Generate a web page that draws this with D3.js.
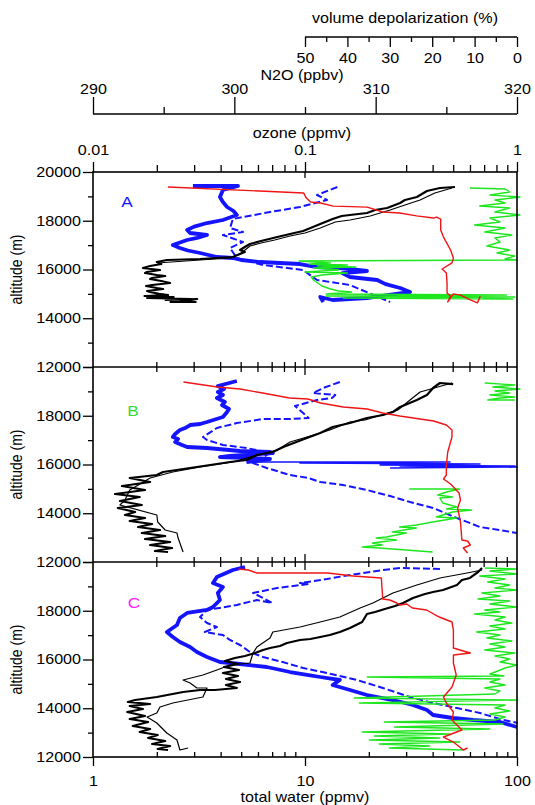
<!DOCTYPE html>
<html>
<head>
<meta charset="utf-8">
<script src="https://cdn.jsdelivr.net/npm/d3@7"></script>
<style>
  body { margin: 0; background: #fff; }
  text { font-family: "Liberation Sans", Arial, Helvetica, sans-serif; font-size: 14px; }
</style>
</head>
<body>
<svg id="chart" width="535" height="805"></svg>
<script>
// ---- data: [altitude (m), value] ----

// panel A
const waterA = [[19385,51],[19344,43.3],[19220,37.6],[18974,33.7],[18851,29.6],[18728,28.1],[18523,24.4],[18441,21.4],[18318,19.6],[18236,16.3],[18195,14.9],[18072,13.5],[17866,11.8],[17743,10.9],[17579,9.8],[17456,8.5],[17333,7.4],[17169,6.2],[17046,5.5],[16923,5.2],[16800,4.94],[16718,5.2],[16595,4.8],[16513,4.57],[16430,3.2],[16390,2.23],[16307,2.0],[16225,2.1],[16143,1.86],[16061,1.72],[15979,2.07],[15897,1.8],[15856,1.76],[15774,2.0],[15733,2.19],[15651,1.9],[15610,1.86],[15528,2.1],[15446,2.31],[15364,1.9],[15323,1.78],[15241,2.0],[15200,2.14],[15118,1.8],[15077,1.86],[15000,2.05],[14954,2.26],[14913,1.75],[14872,2.4],[14830,1.8],[14790,2.9],[14749,2.2],[14790,3.1],[14708,2.6],[14667,3.05],[14667,2.3]];
const waterThinA = [[19344,49.4],[19138,41],[18851,34.9],[18646,29.6],[18441,25.2],[18195,20.3],[18031,16.3],[17949,13.9],[17702,11.8],[17497,10],[17374,8.5],[17210,7.2],[17087,6.2],[16964,5.5],[16636,4.94],[16472,4.43],[16390,3.2],[16266,2.0]];
const ozoneA = [[19426,0.0296],[19426,0.0483],[19262,0.041],[18974,0.0397],[18770,0.041],[18564,0.0429],[18400,0.046],[18236,0.0477],[18031,0.041],[17907,0.0345],[17760,0.03],[17620,0.0278],[17497,0.0287],[17415,0.0345],[17300,0.031],[17210,0.0278],[17005,0.0238],[16882,0.0257],[16780,0.028],[16677,0.032],[16513,0.0384],[16472,0.0457],[16390,0.05],[16307,0.0613],[16225,0.0947],[16102,0.114],[16061,0.146],[15938,0.196],[15850,0.15],[15692,0.163],[15569,0.219],[15400,0.24],[15241,0.281],[15077,0.313],[14960,0.25],[14831,0.196],[14749,0.135],[14872,0.118],[14667,0.122]];
const ozoneDashA = [[19385,0.142],[19056,0.114],[18851,0.127],[18564,0.0947],[18359,0.0684],[18072,0.0457],[17702,0.0443],[17538,0.051],[17415,0.041],[17128,0.051],[16882,0.0443],[16472,0.0477],[16184,0.0634],[15979,0.098],[15569,0.114],[15364,0.163],[14667,0.252]];
const n2oA = [[19385,295.3],[19140,304.9],[18930,305.1],[18770,305.4],[18730,306.1],[18600,307.0],[18560,309.4],[18360,310.5],[18320,311.7],[18200,312.9],[18110,314.1],[18150,314.3],[18070,314.6],[17620,314.6],[17330,314.8],[16800,315.3],[16470,315.5],[16270,315.4],[16020,314.7],[15860,315.0],[15450,315.05],[15040,315.05],[14910,315.3],[14670,315.1],[15000,315.5],[14950,316.0],[14750,316.7],[14630,317.2],[14900,317.4]];
const depolA = [[19344,11.1],[19303,2.8],[19179,1.7],[19056,6.4],[18974,-0.7],[18851,5.2],[18728,2.8],[18605,8.8],[18523,1.7],[18359,5.2],[18236,-0.7],[18113,6.4],[17949,4.0],[17825,10],[17702,2.8],[17538,7.6],[17415,1.2],[17292,5.2],[17128,4.0],[16964,7.1],[16800,1.7],[16677,4.7],[16554,0.5],[16430,2.8],[16390,0],[16348,51.4],[16266,44],[16225,49],[16184,40],[16143,47],[16102,38],[16061,48],[15979,42],[15897,50],[15856,40],[15774,46],[15692,48.5],[15569,48],[15446,47],[15323,46],[15200,44],[15118,42],[15077,39],[14995,45],[14954,2.5],[14913,45],[14872,0.5],[14831,41],[14790,1],[14831,8]];

// panel B
const waterB = [[19300,50],[19344,43.3],[19138,40.2],[18851,37.6],[18646,33.7],[18359,28.1],[18154,26.0],[18031,23.3],[17908,19.6],[17702,16.3],[17538,13.5],[17292,11.8],[17087,10.2],[16718,7.9],[16513,7.05],[16389,5.93],[16184,5.3],[16102,4.43],[16020,3.84],[15856,2.87],[15692,2.14],[15569,2.0],[15446,1.49],[15282,1.86],[15118,1.37],[14953,1.76],[14789,1.27],[14666,1.66],[14502,1.34],[14338,1.70],[14215,1.31],[14051,1.58],[13928,1.415],[13805,1.76],[13682,1.49],[13559,1.90],[13436,1.63],[13312,2.07],[13189,1.70],[13066,2.19],[12943,1.76],[12820,2.31],[12697,1.86],[12574,2.36],[12451,1.96],[12410,2.26]];
const waterThinB = [[19344,49.4],[18974,34.9],[18646,31.3],[18236,27.4],[18072,23.8],[17825,19.2],[17743,16.3],[17415,13.1],[17169,10.6],[16923,8.5],[16595,7.4],[16307,5.5],[16102,4.57],[15897,3.2],[15692,2.38],[15446,1.86],[14953,1.49],[14543,1.415],[14338,1.34],[13928,2.0],[13640,2.02],[13312,2.19],[13189,2.49],[12984,2.52],[12779,2.57],[12410,2.66]];
const ozoneB = [[19426,0.0477],[19220,0.0388],[19097,0.0415],[18974,0.0388],[18851,0.041],[18728,0.0384],[18564,0.0419],[18441,0.0406],[18277,0.0438],[18154,0.0429],[17949,0.041],[17743,0.0345],[17661,0.032],[17620,0.0287],[17497,0.0272],[17415,0.0257],[17251,0.0244],[17128,0.0238],[17046,0.0252],[16923,0.0244],[16800,0.0263],[16718,0.0278],[16677,0.0345],[16554,0.0494],[16513,0.0684],[16472,0.0705],[16349,0.0443],[16307,0.0397],[16266,0.055],[16225,0.0684],[16143,0.0581],[16102,0.053]];
const ozoneSpikeB = [[16102,0.053],[16102,0.483],[16061,0.0947],[16020,0.669],[15979,0.226],[15938,0.979],[15938,0.281],[15897,1.0],[15856,0.252]];
const ozoneDashB = [[19385,0.146],[19138,0.122],[18933,0.109],[18851,0.139],[18728,0.134],[18646,0.114],[18400,0.0897],[18113,0.098],[17908,0.104],[17866,0.085],[17866,0.0634],[17702,0.0477],[17497,0.0384],[17128,0.033],[17005,0.0345],[16800,0.041],[16677,0.053],[16472,0.0684],[16061,0.0568],[15856,0.066],[15569,0.085],[15446,0.104],[15282,0.118],[15159,0.151],[14954,0.196],[14707,0.252],[14461,0.313],[14215,0.402],[13805,0.52],[13436,0.669],[13312,0.831],[13189,1.0]];
const n2oB = [[19385,296.4],[19179,298.8],[19097,300.4],[18933,302.0],[18728,303.9],[18687,305.2],[18523,306.1],[18359,307.7],[18277,309.4],[18113,310.5],[17990,311.7],[17784,314.1],[17620,315.0],[17415,315.4],[17128,315.4],[16513,315.1],[15979,315.0],[15569,315.0],[15405,314.8],[15200,315.3],[14831,315.9],[14544,316.0],[14215,315.8],[13641,316.0],[12903,316.1],[12862,316.5],[12697,316.7],[12574,316.2],[12369,316.5]];
const depolBTop = [[19344,7.6],[19262,0.5],[19179,5.7],[19097,-0.7],[19015,5.2],[18933,1.7],[18851,6.4],[18769,0.5],[18728,4.0],[18646,6.9],[18646,0.5]];
const depolBLow = [[14994,25.4],[14994,13.5],[14871,16.6],[14748,18.7],[14666,15.2],[14625,18.2],[14420,17.5],[14256,14.2],[14174,16.6],[14133,10.7],[14051,15.2],[13846,19.0],[13805,14.2],[13641,19.9],[13518,23.7],[13436,27.7],[13395,23.7],[13230,29.4],[13189,26.1],[13025,30.8],[12984,33.2],[12902,28.4],[12779,34.1],[12697,31.8],[12615,36.5],[12574,32.5],[12410,19.9]];

// panel C
const waterC = [[19754,68.4],[19590,65.5],[19344,60],[19261,55],[19056,52.1],[18851,44.8],[18769,40.2],[18687,36.8],[18523,32.3],[18318,29.0],[18195,26.6],[18072,23.8],[17949,21.4],[17866,19.6],[17538,18.6],[17292,16.3],[17128,14.6],[17005,13.1],[16923,11.8],[16841,10.6],[16800,9.47],[16677,8.22],[16554,7.62],[16472,6.84],[16389,6.34],[16266,5.81],[16143,5.21],[16061,4.67],[15938,4.19],[15815,4.83],[15692,4.15],[15569,4.88],[15446,4.1],[15323,4.83],[15200,4.24],[15077,4.94],[14954,4.24],[14831,4.77],[14749,3.76],[14749,3.2],[14666,2.66],[14461,2.0],[14338,1.58],[14256,1.46],[14174,1.86],[14092,1.49],[13969,1.72],[13846,1.45],[13682,1.76],[13559,1.49],[13436,1.82],[13272,1.54],[13148,1.86],[13025,1.66],[12902,2.02],[12779,1.82],[12656,2.19],[12533,1.90],[12451,2.31],[12328,2.02],[12287,2.26]];
const waterThinC = [[19672,68.4],[19549,58.1],[19344,43.3],[19056,33.7],[18728,26.0],[18318,20.9],[18113,18.2],[17743,14.6],[17538,11.8],[17333,9.47],[17128,7.05],[16882,6.84],[16513,5.93],[16266,5.69],[15856,5.5],[15774,4.43],[15569,3.84],[15364,3.30],[15159,2.66],[15036,2.87],[14831,3.09],[14831,3.45],[14461,3.30],[14215,2.38],[14051,2.07],[13805,2.0],[13641,1.80],[13395,2.0],[12984,2.23],[12697,2.49],[12287,2.57],[12369,2.81]];
const ozoneC = [[19795,0.0521],[19672,0.0457],[19385,0.0384],[19138,0.0368],[18974,0.041],[18728,0.0388],[18441,0.0397],[18154,0.0368],[18031,0.0345],[17908,0.0278],[17702,0.0257],[17415,0.0249],[17128,0.0223],[16923,0.0238],[16718,0.0257],[16513,0.0287],[16307,0.0309],[16102,0.0345],[15897,0.0397],[15815,0.0494],[15692,0.066],[15487,0.085],[15364,0.104],[15282,0.118],[15159,0.146],[14954,0.135],[14749,0.163],[14543,0.196],[14338,0.26],[14133,0.323],[13928,0.376],[13723,0.402],[13600,0.497],[13518,0.62],[13436,0.831],[13230,1.0]];
const ozoneDashC = [[19713,0.433],[19754,0.281],[19672,0.233],[19467,0.163],[19302,0.127],[19138,0.0947],[19097,0.104],[18933,0.0738],[18728,0.0569],[18523,0.0634],[18318,0.07],[18441,0.0593],[18236,0.0477],[18031,0.0345],[17743,0.032],[17497,0.0345],[17333,0.0384],[17128,0.0337],[17005,0.041],[16800,0.0443],[16595,0.0494],[16307,0.055],[16102,0.0634],[15897,0.0785],[15651,0.098],[15446,0.127],[15159,0.176],[14831,0.233],[14461,0.313],[14215,0.402],[14010,0.52],[13805,0.669],[13518,0.86],[13395,1.01]];
const n2oC = [[19713,300.3],[19672,301.0],[19549,301.6],[19549,304.9],[19549,306.6],[19426,308.4],[19344,310.4],[18482,310.5],[18441,311.0],[18318,311.5],[18236,311.7],[18277,312.2],[18113,312.6],[18031,313.6],[17743,314.5],[17538,315.4],[17210,315.5],[16471,315.5],[16348,316.2],[16266,316.7],[16184,315.5],[15856,315.5],[15364,315.7],[14871,315.4],[14461,314.8],[14215,315.0],[13846,315.5],[13518,315.4],[13107,316.1],[12820,314.8],[12615,315.5],[12287,316.2],[12369,316.5]];
const depolC = [[19754,7.6],[19713,0],[19631,6.4],[19508,0],[19426,8.8],[19302,2.8],[19179,6.9],[19056,1.7],[18933,5.2],[18851,0],[18728,8.3],[18605,4.0],[18482,9.2],[18400,1.7],[18277,6.4],[18154,0],[18031,7.6],[17949,4.0],[17866,10.0],[17743,2.8],[17620,5.2],[17497,1.2],[17374,6.4],[17251,2.8],[17128,9.5],[17005,4.0],[16882,7.1],[16759,1.2],[16636,6.4],[16513,2.8],[16389,7.6],[16266,0.5],[16143,5.2],[16020,1.7],[15897,4.0],[15774,0],[15651,2.8],[15528,4.5],[15405,6.4],[15323,3.1],[15282,35.3],[15200,4.0],[15077,6.4],[14954,2.8],[14831,7.6],[14708,4.0],[14584,5.2],[14420,38.4],[14338,-0.2],[14215,37.2],[14133,2.8],[14010,5.2],[13887,1.7],[13764,6.4],[13641,2.8],[13518,5.2],[13436,31.3],[13354,3.3],[13230,28.9],[13148,6.4],[13025,36.5],[12943,15.9],[12861,33.6],[12779,18.2],[12697,34.8],[12615,13.5],[12533,32.5],[12451,20.6],[12369,30.1],[12287,12.8]];

// ---- axis ticks ----
const altMajor = [12000, 14000, 16000, 18000, 20000];
const altMinor = [13000, 15000, 17000, 19000];
const logMajor = [1, 10, 100];
const logMinor = [2, 3, 4, 5, 6, 7, 8, 9, 20, 30, 40, 50, 60, 70, 80, 90];
const ozoneTicks = [0.01, 0.1, 1];
const n2oMajor = [290, 300, 310, 320];
const n2oMinor = [295, 305, 315];
const depolMajor = [50, 40, 30, 20, 10, 0];
const depolMinor = [45, 35, 25, 15, 5];

// ---- layout ----
const left = 93, right = 517;
const panelH = 195;
const SX = 1.15; // the source type is set a bit wide

const svg = d3.select("#chart");

const xWater = d3.scaleLog().domain([1, 100]).range([left, right]);
const xOzone = d3.scaleLog().domain([0.01, 1]).range([left, right]);
const xN2O = d3.scaleLinear().domain([290, 320]).range([left, right]);
const xDepol = d3.scaleLinear().domain([50, 0]).range([305, right]);

const BLUE = "#1414ff", GREEN = "#1ee61e", RED = "#f01414";

const panels = [
  {name: "A", color: BLUE, top: 172, lx: 127, ly: 207,
   series: [[ozoneDashA, xOzone, BLUE, 2, "7,3"], [ozoneA, xOzone, BLUE, 3.8], [waterA, xWater, "#000", 2.2], [waterThinA, xWater, "#000", 1.2], [depolA, xDepol, GREEN, 1.4], [n2oA, xN2O, RED, 1.4]]},
  {name: "B", color: "#33dd33", top: 367, lx: 133, ly: 416,
   series: [[ozoneDashB, xOzone, BLUE, 2, "7,3"], [ozoneB, xOzone, BLUE, 3.8], [ozoneSpikeB, xOzone, BLUE, 1.6], [waterB, xWater, "#000", 2.2], [waterThinB, xWater, "#000", 1.2], [depolBTop, xDepol, GREEN, 1.4], [depolBLow, xDepol, GREEN, 1.4], [n2oB, xN2O, RED, 1.4]]},
  {name: "C", color: "#ff22ff", top: 562, lx: 134, ly: 608,
   series: [[ozoneDashC, xOzone, BLUE, 2, "7,3"], [ozoneC, xOzone, BLUE, 3.8], [waterC, xWater, "#000", 2.2], [waterThinC, xWater, "#000", 1.2], [depolC, xDepol, GREEN, 1.4], [n2oC, xN2O, RED, 1.4]]}
];

// widen a text element horizontally about its own anchor point
function stretch(sel) {
  sel.each(function() {
    const t = d3.select(this);
    const x = +t.attr("x") || 0, y = +t.attr("y") || 0;
    t.attr("x", 0).attr("y", 0)
      .attr("transform", `translate(${x},${y}) scale(${SX},1)` + (t.attr("data-rot") ? " rotate(-90)" : ""));
  });
}

function label(x, y, s, opts = {}) {
  const t = svg.append("text")
    .attr("x", x).attr("y", y)
    .attr("text-anchor", opts.anchor || "middle")
    .attr("fill", opts.color || "#000")
    .style("font-size", opts.size || null)
    .text(s);
  if (opts.rot) t.attr("data-rot", 1);
  stretch(t);
  return t;
}

function tidy(g) {
  g.select(".domain").remove();
  g.selectAll("line").attr("stroke", "#000").attr("stroke-width", 1.3);
  g.selectAll("text").attr("fill", "#000").style("font-size", "14px")
    .style("font-family", '"Liberation Sans", Arial, sans-serif');
  stretch(g.selectAll("text"));
}

// ---- panels ----
panels.forEach((p, i) => {
  const y = d3.scaleLinear().domain([12000, 20000]).range([p.top + panelH, p.top]);
  const g = svg.append("g");

  p.series.forEach(([data, xs, color, w, dash]) => {
    const line = d3.line().x(d => xs(d[1])).y(d => y(d[0]));
    g.append("path")
      .datum(data)
      .attr("d", line)
      .attr("fill", "none")
      .attr("stroke", color)
      .attr("stroke-width", w)
      .attr("stroke-linejoin", "round")
      .attr("stroke-dasharray", dash || null);
  });

  // altitude axis
  svg.append("g").attr("transform", `translate(${left},0)`)
    .call(d3.axisLeft(y).tickValues(altMajor).tickSize(10).tickPadding(2)
      .tickFormat(d => (i > 0 && d === 20000) ? "" : d))
    .call(tidy);
  svg.append("g").attr("transform", `translate(${left},0)`)
    .call(d3.axisLeft(y).tickValues(altMinor).tickSize(5).tickFormat(""))
    .call(tidy);

  label(22, p.top + panelH / 2, "altitude (m)", {rot: true});
  label(p.lx, p.ly, p.name, {color: p.color, size: "15px"});

  // log ticks crossing the boundary under each of the first two panels
  if (i < 2) {
    const yb = p.top + panelH;
    svg.append("g").selectAll("line")
      .data(logMinor.concat([10]))
      .join("line")
      .attr("x1", d => xWater(d)).attr("x2", d => xWater(d))
      .attr("y1", d => yb - (d === 10 ? 8 : 5)).attr("y2", d => yb + (d === 10 ? 8 : 5))
      .attr("stroke", "#000").attr("stroke-width", 1.3);
  }
});

// frame
const top0 = panels[0].top, bottom = panels[2].top + panelH;
svg.append("rect")
  .attr("x", left).attr("y", top0).attr("width", right - left).attr("height", bottom - top0)
  .attr("fill", "none").attr("stroke", "#000").attr("stroke-width", 1.6);
[panels[1].top, panels[2].top].forEach(yy => {
  svg.append("line").attr("x1", left).attr("x2", right).attr("y1", yy).attr("y2", yy)
    .attr("stroke", "#000").attr("stroke-width", 1.6);
});

// ozone axis on top of panel A
svg.append("g").attr("transform", `translate(0,${top0})`)
  .call(d3.axisTop(xOzone).tickValues(ozoneTicks).tickSize(10).tickPadding(7)
    .tickFormat(d => d === 1 ? "1" : d3.format("")(d)))
  .call(tidy);
svg.append("g").attr("transform", `translate(0,${top0})`)
  .call(d3.axisTop(xWater).tickValues(logMinor).tickSize(7).tickFormat(""))
  .call(tidy);
svg.append("line").attr("x1", xWater(10)).attr("x2", xWater(10))
  .attr("y1", top0).attr("y2", top0 + 6).attr("stroke", "#000").attr("stroke-width", 1.3);
label(302, 138, "ozone (ppmv)");

// N2O axis
svg.append("g").attr("transform", "translate(0,114)")
  .call(d3.axisTop(xN2O).tickValues(n2oMajor).tickSize(17).tickPadding(3)).call(tidy);
svg.append("g").attr("transform", "translate(0,114)")
  .call(d3.axisTop(xN2O).tickValues(n2oMinor).tickSize(7).tickFormat("")).call(tidy);
svg.append("line").attr("x1", left).attr("x2", right).attr("y1", 114).attr("y2", 114)
  .attr("stroke", "#000").attr("stroke-width", 1.4);
label(302, 80, "N2O (ppbv)");

// volume depolarization axis
svg.append("g").attr("transform", "translate(0,37)")
  .call(d3.axisBottom(xDepol).tickValues(depolMajor).tickSize(10).tickPadding(6)).call(tidy);
svg.append("g").attr("transform", "translate(0,37)")
  .call(d3.axisBottom(xDepol).tickValues(depolMinor).tickSize(5).tickFormat("")).call(tidy);
svg.append("line").attr("x1", xDepol(50)).attr("x2", xDepol(0)).attr("y1", 37).attr("y2", 37)
  .attr("stroke", "#000").attr("stroke-width", 1.4);
label(405, 23, "volume depolarization (%)");

// total water axis at the bottom
svg.append("g").attr("transform", `translate(0,${bottom})`)
  .call(d3.axisBottom(xWater).tickValues(logMajor).tickSize(9).tickPadding(10)
    .tickFormat(d3.format("")))
  .call(tidy);
svg.append("g").attr("transform", `translate(0,${bottom})`)
  .call(d3.axisTop(xWater).tickValues(logMinor).tickSize(5).tickFormat(""))
  .call(tidy);
label(305, 802, "total water (ppmv)");
</script>
</body>
</html>
